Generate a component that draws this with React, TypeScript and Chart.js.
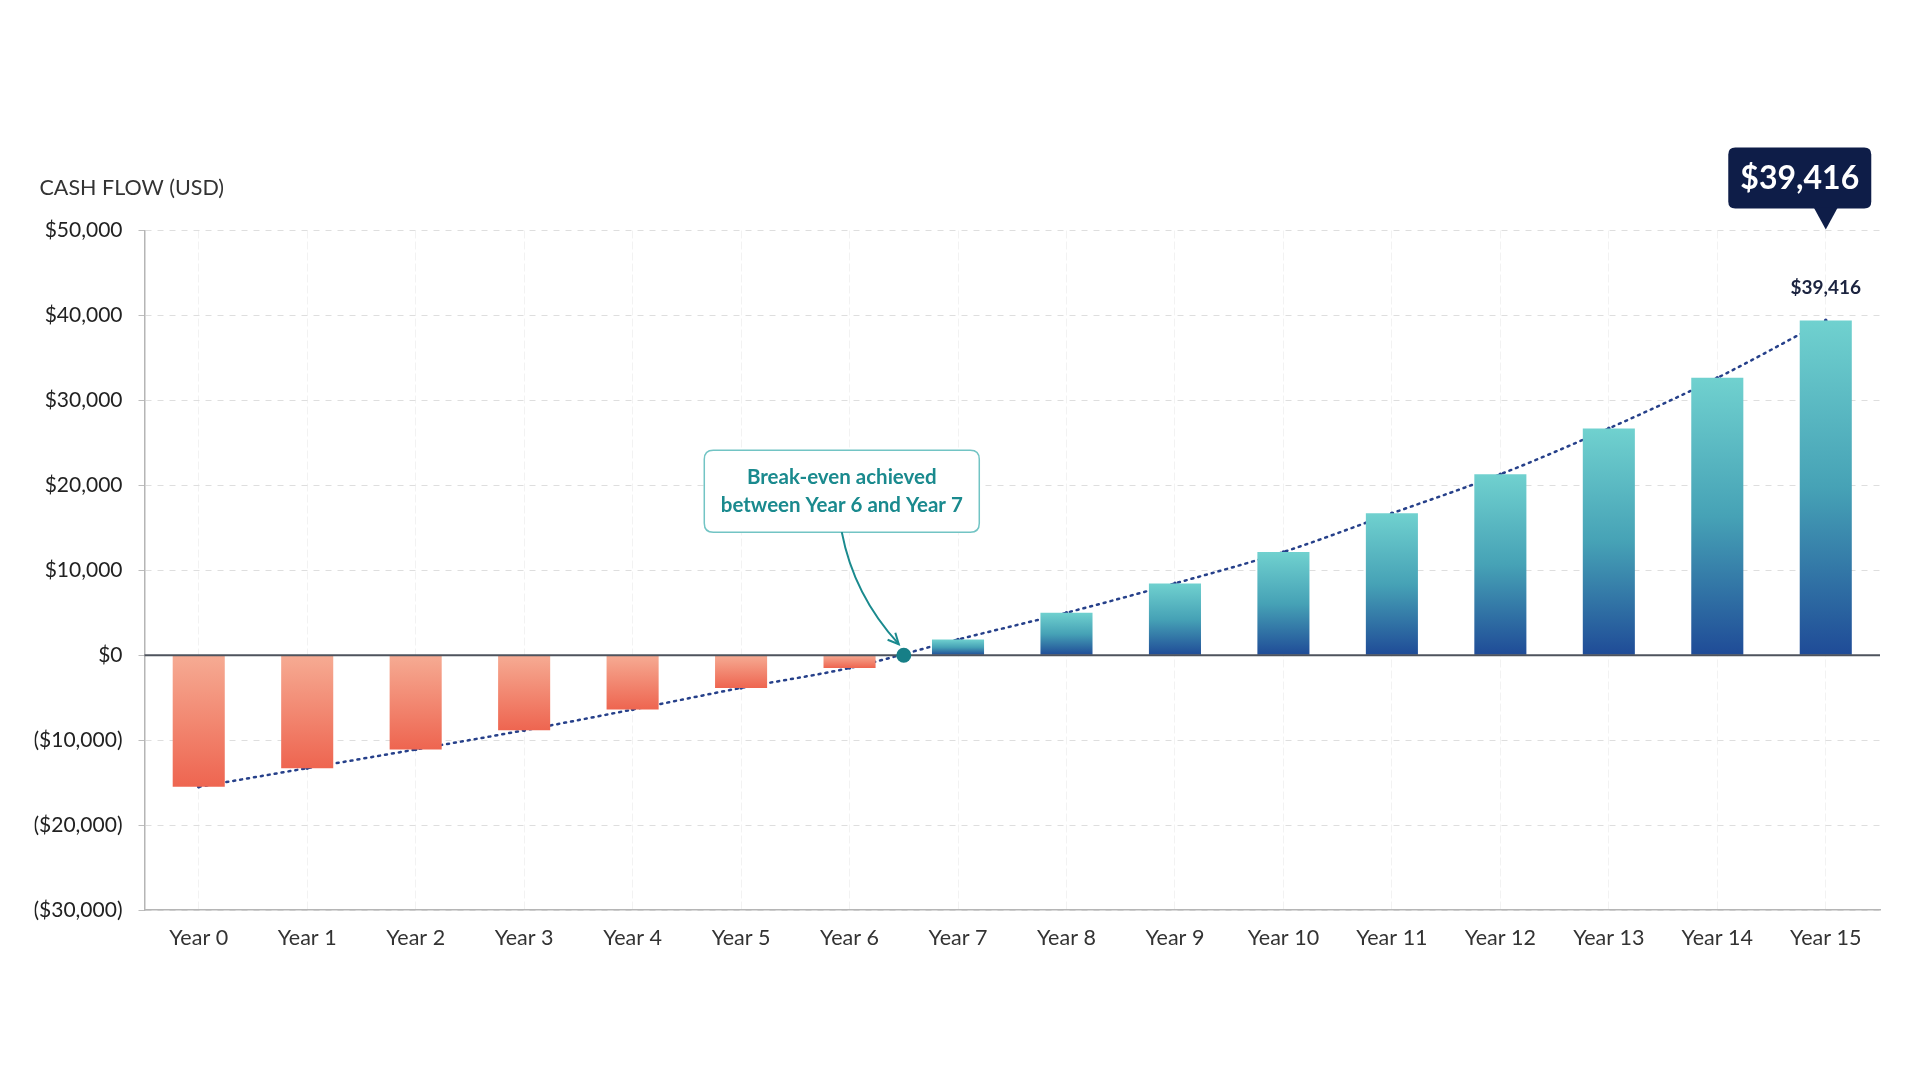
import React, { useEffect, useRef } from 'react';
import { Chart, registerables } from 'chart.js';

Chart.register(...registerables);

// data
const years = [
  'Year 0', 'Year 1', 'Year 2', 'Year 3', 'Year 4', 'Year 5', 'Year 6', 'Year 7',
  'Year 8', 'Year 9', 'Year 10', 'Year 11', 'Year 12', 'Year 13', 'Year 14', 'Year 15',
];
const cashFlow = [
  -15500, -13300, -11100, -8850, -6400, -3850, -1500, 1850,
  5000, 8450, 12150, 16700, 21300, 26700, 32650, 39416,
];
const yMin = -30000;
const yMax = 50000;
const yStep = 10000;
const breakEven = { x: 6.5, y: 0 };
const breakEvenNote = ['Break-even achieved', 'between Year 6 and Year 7'];
const axisTitle = 'CASH FLOW (USD)';

const FONT = 'Lato, "Noto Sans", sans-serif';

function money(v: number) {
  const s = '$' + Math.abs(v).toLocaleString('en-US');
  return v < 0 ? `(${s})` : s;
}

function roundRect(ctx: CanvasRenderingContext2D, x: number, y: number, w: number, h: number, r: number) {
  ctx.beginPath();
  ctx.moveTo(x + r, y);
  ctx.lineTo(x + w - r, y);
  ctx.quadraticCurveTo(x + w, y, x + w, y + r);
  ctx.lineTo(x + w, y + h - r);
  ctx.quadraticCurveTo(x + w, y + h, x + w - r, y + h);
  ctx.lineTo(x + r, y + h);
  ctx.quadraticCurveTo(x, y + h, x, y + h - r);
  ctx.lineTo(x, y + r);
  ctx.quadraticCurveTo(x, y, x + r, y);
  ctx.closePath();
}

const extras = {
  id: 'extras',
  afterDatasetDraw(chart: any, args: any) {
    // solid zero line right after the bars
    if (args.index !== 0) return;
    const { ctx, chartArea, scales } = chart;
    const y0 = scales.y.getPixelForValue(0);
    ctx.save();
    ctx.strokeStyle = '#4e535d';
    ctx.lineWidth = 2;
    ctx.beginPath();
    ctx.moveTo(chartArea.left, y0);
    ctx.lineTo(chartArea.right, y0);
    ctx.stroke();
    ctx.restore();
  },
  afterDraw(chart: any) {
    const { ctx, chartArea, scales } = chart;
    const x = scales.x;
    const y = scales.y;

    ctx.save();
    // axis title
    ctx.font = `21.5px ${FONT}`;
    ctx.fillStyle = '#333';
    ctx.textAlign = 'left';
    ctx.textBaseline = 'middle';
    ctx.fillText(axisTitle, chartArea.left - 105, chartArea.top - 42);

    // break-even note
    const dx = x.getPixelForValue(breakEven.x);
    const dy = y.getPixelForValue(breakEven.y);
    const bw = 275, bh = 82;
    const bcx = dx - 62;
    const bBottom = dy - 123;
    const bTop = bBottom - bh;
    roundRect(ctx, bcx - bw / 2, bTop, bw, bh, 9);
    ctx.fillStyle = '#fff';
    ctx.fill();
    ctx.strokeStyle = '#72c4c4';
    ctx.lineWidth = 1.5;
    ctx.stroke();
    ctx.font = `bold 20.5px ${FONT}`;
    ctx.fillStyle = '#1a8a8e';
    ctx.textAlign = 'center';
    ctx.fillText(breakEvenNote[0], bcx, bTop + 27);
    ctx.fillText(breakEvenNote[1], bcx, bTop + 55);

    // arrow to the break-even dot
    const ex = dx - 5, ey = dy - 11;
    const cx = bcx + 12, cy = dy - 60;
    ctx.strokeStyle = '#1a8a8e';
    ctx.lineWidth = 2;
    ctx.beginPath();
    ctx.moveTo(bcx, bBottom);
    ctx.quadraticCurveTo(cx, cy, ex, ey);
    ctx.stroke();
    const ang = Math.atan2(ey - cy, ex - cx);
    ctx.beginPath();
    ctx.moveTo(ex - 12 * Math.cos(ang - 0.45), ey - 12 * Math.sin(ang - 0.45));
    ctx.lineTo(ex, ey);
    ctx.lineTo(ex - 12 * Math.cos(ang + 0.45), ey - 12 * Math.sin(ang + 0.45));
    ctx.stroke();

    // last value label and callout
    const last = cashFlow.length - 1;
    const lx = x.getPixelForValue(last);
    const ly = y.getPixelForValue(cashFlow[last]);
    ctx.font = `bold 19px ${FONT}`;
    ctx.fillStyle = '#1c2440';
    ctx.fillText(money(cashFlow[last]), lx, ly - 33);

    const tipY = y.getPixelForValue(yMax) - 1;
    const cw = 143, ch = 61;
    const ccx = lx - 26;
    const cBottom = tipY - 21;
    ctx.fillStyle = '#0e1d48';
    roundRect(ctx, ccx - cw / 2, cBottom - ch, cw, ch, 7);
    ctx.fill();
    ctx.beginPath();
    ctx.moveTo(lx - 12, cBottom - 1);
    ctx.lineTo(lx + 12, cBottom - 1);
    ctx.lineTo(lx, tipY);
    ctx.closePath();
    ctx.fill();
    ctx.font = `bold 32px ${FONT}`;
    ctx.fillStyle = '#fff';
    ctx.fillText(money(cashFlow[last]), ccx, cBottom - ch / 2 + 1);
    ctx.restore();
  },
};

export default function App() {
  const chartRef = useRef<HTMLCanvasElement | null>(null);

  useEffect(() => {
    document.body.style.margin = '0';
    document.body.style.overflow = 'hidden';
    if (!chartRef.current) return;

    const points = cashFlow.map((v, i) => ({ x: i, y: v }));

    const chart = new Chart(chartRef.current, {
      type: 'bar',
      data: {
        datasets: [
          {
            type: 'bar',
            data: points,
            order: 2,
            barPercentage: 0.48,
            categoryPercentage: 1,
            borderWidth: 0,
            backgroundColor: (c: any) => {
              const ch = c.chart;
              if (!ch.chartArea || c.type !== 'data' || !c.parsed) return '#ccc';
              const v = c.parsed.y as number;
              const sy = ch.scales.y;
              const top = sy.getPixelForValue(Math.max(v, 0));
              const bottom = sy.getPixelForValue(Math.min(v, 0)) + 0.01;
              const g = ch.ctx.createLinearGradient(0, top, 0, bottom);
              if (v >= 0) {
                g.addColorStop(0, '#70d1cf');
                g.addColorStop(0.5, '#46a2b6');
                g.addColorStop(1, '#1f4b97');
              } else {
                g.addColorStop(0, '#f6ab93');
                g.addColorStop(1, '#ee6550');
              }
              return g;
            },
          },
          {
            // trend line sits behind the bars
            type: 'line',
            data: points,
            order: 3,
            borderColor: '#26408a',
            borderWidth: 2.5,
            borderDash: [2, 5],
            borderCapStyle: 'round',
            cubicInterpolationMode: 'monotone',
            pointRadius: 1.8,
            pointBackgroundColor: '#26408a',
            pointBorderWidth: 0,
          },
          {
            type: 'line',
            data: [breakEven],
            order: 0,
            showLine: false,
            pointRadius: 7.5,
            pointBackgroundColor: '#177f87',
            pointBorderWidth: 0,
          },
        ],
      } as any,
      options: {
        animation: false,
        responsive: true,
        maintainAspectRatio: false,
        layout: { padding: { top: 230.5, right: 40, bottom: 120, left: 34.5 } },
        plugins: {
          legend: { display: false },
          tooltip: { enabled: false },
        },
        scales: {
          x: {
            type: 'linear',
            min: -0.5,
            max: 15.5,
            offset: false,
            afterBuildTicks: (s: any) => { s.ticks = years.map((_, i) => ({ value: i })); },
            grid: { offset: false, color: '#f2f2f2', drawTicks: false, lineWidth: 1 },
            border: { color: '#b5b5b5', width: 1.5, dash: [8, 3] },
            ticks: {
              autoSkip: false,
              maxRotation: 0,
              color: '#333',
              font: { family: FONT, size: 21.5 },
              padding: 15,
              callback: (v: any) => years[v] ?? '',
            },
            afterFit: (s: any) => { s.height = 50; },
          },
          y: {
            type: 'linear',
            min: yMin,
            max: yMax,
            ticks: {
              stepSize: yStep,
              color: '#222',
              font: { family: FONT, size: 21 },
              padding: 16,
              callback: (v: any) => money(Number(v)),
            },
            grid: {
              color: (c: any) => (c.tick && c.tick.value === 0 ? 'rgba(0,0,0,0)' : '#dedede'),
              tickColor: '#bdbdbd',
              tickLength: 6,
              lineWidth: 1,
            },
            border: { color: '#b5b5b5', width: 1.5, dash: [6, 6] },
            afterFit: (s: any) => { s.width = 110; },
          },
        },
      } as any,
      plugins: [extras],
    });

    return () => chart.destroy();
  }, []);

  return (
    <div style={{ width: '1920px', height: '1080px', background: '#fff', position: 'relative' }}>
      <canvas ref={chartRef}></canvas>
    </div>
  );
}
